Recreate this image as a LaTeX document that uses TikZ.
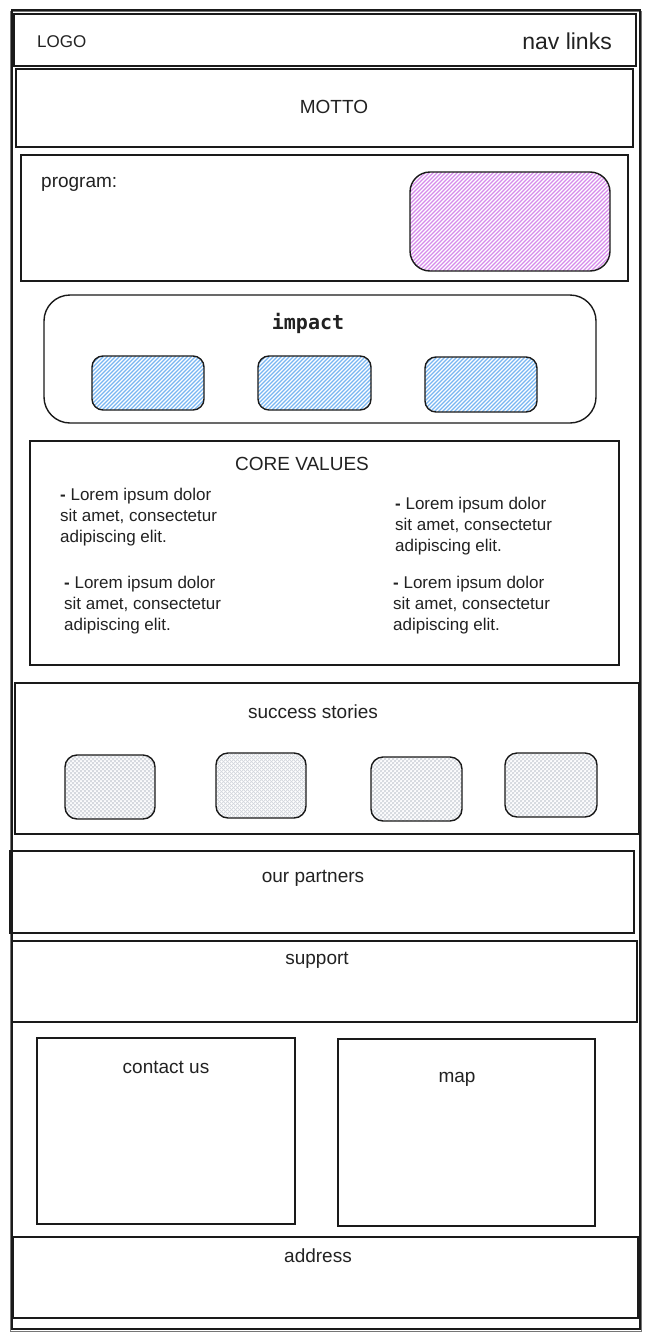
\documentclass[tikz,border=0pt]{standalone}
\usepackage{fontspec}
\setmainfont{Liberation Sans}
\newfontfamily\impactfont{DejaVu Sans Mono}
\usetikzlibrary{fit}
\definecolor{ink}{HTML}{1A1A1A}
\definecolor{txt}{HTML}{222222}
\definecolor{purplehatch}{HTML}{D68BEB}
\definecolor{bluehatch}{HTML}{78B6F2}
\definecolor{grayhatch}{HTML}{D3D7DD}
% hatch lines clipped to a rounded box: x1,y1,x2,y2,radius,colour
\newcommand\hatchfill[6]{%
  \begin{scope}
    \clip[rounded corners=#5] (#1,#2) rectangle (#3,#4);
    \pgfmathsetmacro\hh{#4-#2}%
    \pgfmathsetmacro\st{#1-\hh}%
    \pgfmathsetmacro\sn{\st+4}%
    \foreach \k in {\st,\sn,...,#3} \draw[draw=#6, line width=1.1pt] (\k,#4) -- ++(\hh,-\hh);
  \end{scope}}
\newcommand\crossfill[6]{%
  \begin{scope}
    \clip[rounded corners=#5] (#1,#2) rectangle (#3,#4);
    \pgfmathsetmacro\hh{#4-#2}%
    \pgfmathsetmacro\st{#1-\hh}%
    \pgfmathsetmacro\sn{\st+4}%
    \foreach \k in {\st,\sn,...,#3} {
      \draw[draw=#6, line width=0.7pt] (\k,#4) -- ++(\hh,-\hh);
      \draw[draw=#6, line width=0.7pt] (\k,#2) -- ++(\hh,\hh);}
  \end{scope}}
\begin{document}
\begin{tikzpicture}[x=1pt,y=-1pt,
  frame/.style={draw=ink, line width=1.2pt, inner sep=0pt},
  sketchy/.style={draw=ink, line width=1.4pt, inner sep=0pt},
  purplebox/.style={sketchy, rounded corners=20pt},
  bluebox/.style={sketchy, rounded corners=11pt},
  graybox/.style={sketchy, rounded corners=12pt},
  lbl/.style={text=txt, inner sep=0pt, font=\fontsize{19}{23}\selectfont},
  lorem/.style={text=txt, inner sep=0pt, align=left, anchor=north west,
    font=\fontsize{17}{21}\selectfont}
]
\useasboundingbox[fill=white] (0,0) rectangle (650,1338);

% outer page frame (sketchy double line)
\draw[draw=ink!60, line width=1pt] (10,12) rectangle (641,1331);
\node[frame, fit={(12,10) (640,1329)}] (page) {};

% header
\node[frame, fit={(14,14) (636,66)}] (header) {};
\node[lbl, anchor=base west, font=\fontsize{17}{20}\selectfont] (logo) at (37,48) {LOGO};
\node[lbl, anchor=base east, font=\fontsize{23}{27}\selectfont] (nav) at (612,49) {nav links};

% motto
\node[frame, fit={(16,69) (633,147)}] (motto) {};
\node[lbl, anchor=base] (mottotext) at (334,113) {MOTTO};

% program
\node[frame, fit={(21,155) (628,281)}] (program) {};
\node[lbl, anchor=base west] (programtext) at (41,187) {program:};
\hatchfill{410}{172}{610}{271}{20pt}{purplehatch}
\node[purplebox, fit={(410,172) (610,271)}] (programimg) {};

% impact
\node[sketchy, rounded corners=26pt, fit={(44,295) (596,423)}] (impact) {};
\node[anchor=base, inner sep=0pt, text=txt, font=\impactfont\bfseries\fontsize{20}{24}\selectfont] (impacttext) at (308,329) {impact};
\hatchfill{92}{356}{204}{410}{11pt}{bluehatch}
\hatchfill{258}{356}{371}{410}{11pt}{bluehatch}
\hatchfill{425}{357}{537}{412}{11pt}{bluehatch}
\node[bluebox, fit={(92,356) (204,410)}] (imp1) {};
\node[bluebox, fit={(258,356) (371,410)}] (imp2) {};
\node[bluebox, fit={(425,357) (537,412)}] (imp3) {};

% core values
\node[frame, fit={(30,441) (619,665)}] (core) {};
\node[lbl, anchor=base] (coretext) at (302,470) {CORE VALUES};
\node[lorem] (cv1) at (60,488) {\textbf{-} Lorem ipsum dolor\\sit amet, consectetur\\adipiscing elit.};
\node[lorem] (cv2) at (395,497) {\textbf{-} Lorem ipsum dolor\\sit amet, consectetur\\adipiscing elit.};
\node[lorem] (cv3) at (64,576) {\textbf{-} Lorem ipsum dolor\\sit amet, consectetur\\adipiscing elit.};
\node[lorem] (cv4) at (393,576) {\textbf{-} Lorem ipsum dolor\\sit amet, consectetur\\adipiscing elit.};

% success stories
\node[frame, fit={(15,683) (639,834)}] (stories) {};
\node[lbl, anchor=base] (storiestext) at (313,718) {success stories};
\crossfill{65}{755}{155}{819}{12pt}{grayhatch}
\crossfill{216}{753}{306}{818}{12pt}{grayhatch}
\crossfill{371}{757}{462}{821}{12pt}{grayhatch}
\crossfill{505}{753}{597}{817}{12pt}{grayhatch}
\node[graybox, fit={(65,755) (155,819)}] (st1) {};
\node[graybox, fit={(216,753) (306,818)}] (st2) {};
\node[graybox, fit={(371,757) (462,821)}] (st3) {};
\node[graybox, fit={(505,753) (597,817)}] (st4) {};

% our partners
\node[frame, fit={(10,851) (634,933)}] (partners) {};
\node[lbl, anchor=base] (partnerstext) at (313,882) {our partners};

% support
\node[frame, fit={(12,941) (637,1022)}] (support) {};
\node[lbl, anchor=base] (supporttext) at (317,964) {support};

% contact and map
\node[frame, fit={(37,1038) (295,1224)}] (contact) {};
\node[lbl, anchor=base] (contacttext) at (166,1073) {contact us};
\node[frame, fit={(338,1039) (595,1226)}] (map) {};
\node[lbl, anchor=base] (maptext) at (457,1082) {map};

% address
\node[frame, fit={(13,1237) (638,1318)}] (address) {};
\node[lbl, anchor=base] (addresstext) at (318,1262) {address};
\end{tikzpicture}
\end{document}
